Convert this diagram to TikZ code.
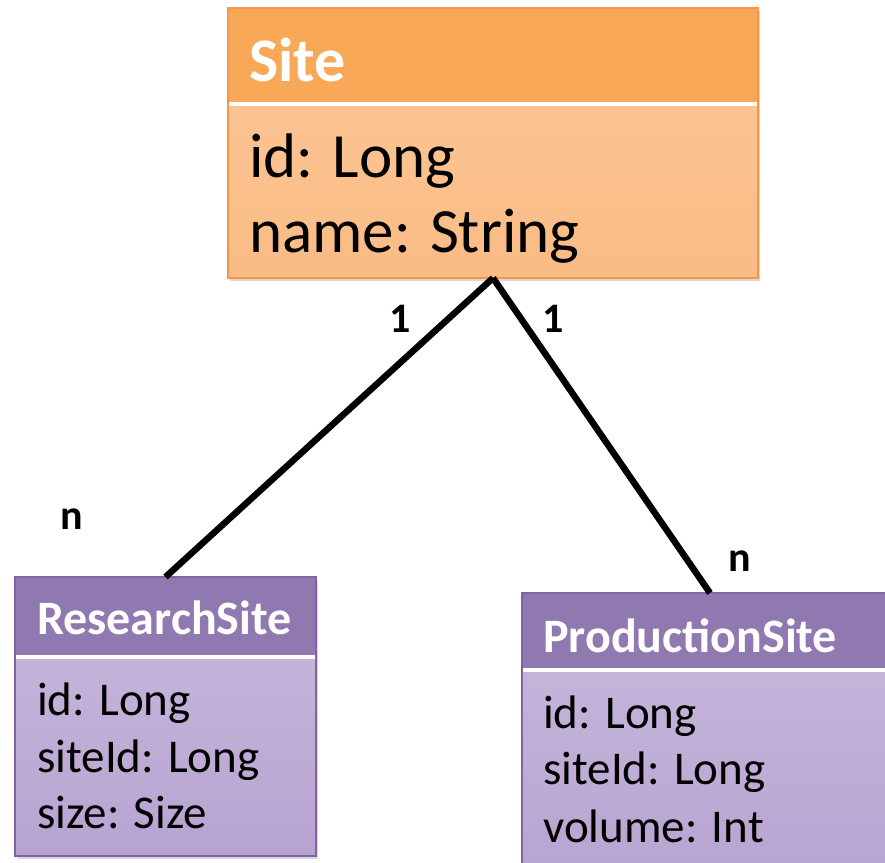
\documentclass[tikz,border=0pt]{standalone}
\usepackage{fontspec}
\setmainfont{Carlito}
\usetikzlibrary{shadows}

\definecolor{orangeedge}{HTML}{F79646}
\definecolor{orangehead}{HTML}{F9A857}
\definecolor{orangetop}{HTML}{FCC99B}
\definecolor{orangebot}{HTML}{FABB84}
\definecolor{purpleedge}{HTML}{8064A2}
\definecolor{purplehead}{HTML}{9079B0}
\definecolor{purpletop}{HTML}{C9BBDD}
\definecolor{purplebot}{HTML}{B7A3D1}

\begin{document}
\begin{tikzpicture}[x=1pt,y=1pt,
  classbox/.style={rectangle, inner sep=0pt, outer sep=0pt, anchor=north west,
    line width=1.5pt,
    drop shadow={opacity=0.3, shadow xshift=2pt, shadow yshift=-3pt}},
  classhead/.style={rectangle, inner sep=0pt, outer sep=0pt, anchor=north west,
    line width=1.5pt},
  separator/.style={white, line width=4pt},
  bigtitle/.style={anchor=base west, inner sep=0pt, text=white,
    font=\fontsize{62}{74}\selectfont\bfseries},
  bigfield/.style={anchor=base west, inner sep=0pt,
    font=\fontsize{63}{75}\selectfont},
  smalltitle/.style={anchor=base west, inner sep=0pt, text=white,
    font=\fontsize{48}{58}\selectfont\bfseries},
  smallfield/.style={anchor=base west, inner sep=0pt,
    font=\fontsize{47}{57}\selectfont},
  mult/.style={anchor=base, inner sep=0pt,
    font=\fontsize{42}{50}\selectfont\bfseries},
  assoc/.style={line width=6.5pt, black}]

\useasboundingbox (0,0) rectangle (885,862);
\fill[white] (0,0) rectangle (885,862);

% Site
\node[classbox, draw=orangeedge, top color=orangetop, bottom color=orangebot,
  minimum width=530pt, minimum height=270pt] (site) at (228,854) {};
\node[classhead, draw=orangeedge, fill=orangehead,
  minimum width=530pt, minimum height=96pt] (sitehead) at (site.north west) {};
\draw[separator] ([xshift=1pt]sitehead.south west) -- ([xshift=-1pt]sitehead.south east);
\node[bigtitle] (sitename) at (249,780) {Site};
\node[bigfield] (sitef1) at (249,684) {id: Long};
\node[bigfield] (sitef2) at (249,609) {name: String};

% ResearchSite
\node[classbox, draw=purpleedge, top color=purpletop, bottom color=purplebot,
  minimum width=301pt, minimum height=279pt] (rs) at (15,285) {};
\node[classhead, draw=purpleedge, fill=purplehead,
  minimum width=301pt, minimum height=80pt] (rshead) at (rs.north west) {};
\draw[separator] ([xshift=1pt]rshead.south west) -- ([xshift=-1pt]rshead.south east);
\node[smalltitle] (rsname) at (37,227) {ResearchSite};
\node[smallfield] (rsf1) at (37,147) {id: Long};
\node[smallfield] (rsf2) at (37,90) {siteId: Long};
\node[smallfield] (rsf3) at (37,34) {size: Size};

% ProductionSite
\node[classbox, draw=purpleedge, top color=purpletop, bottom color=purplebot,
  minimum width=376pt, minimum height=290pt] (ps) at (522,269) {};
\node[classhead, draw=purpleedge, fill=purplehead,
  minimum width=376pt, minimum height=77pt] (pshead) at (ps.north west) {};
\draw[separator] ([xshift=1pt]pshead.south west) -- ([xshift=-1pt]pshead.south east);
\node[smalltitle] (psname) at (543,210) {ProductionSite};
\node[smallfield] (psf1) at (543,134) {id: Long};
\node[smallfield] (psf2) at (543,78) {siteId: Long};
\node[smallfield] (psf3) at (543,20) {volume: Int};

% associations
\draw[assoc] (site.south) -- (rs.north);
\draw[assoc] (site.south) -- (ps.north);

% multiplicities
\node[mult] (m1) at (400,529) {1};
\node[mult] (m2) at (553,529) {1};
\node[mult] (m3) at (72,332) {n};
\node[mult] (m4) at (740,290) {n};

\end{tikzpicture}
\end{document}
